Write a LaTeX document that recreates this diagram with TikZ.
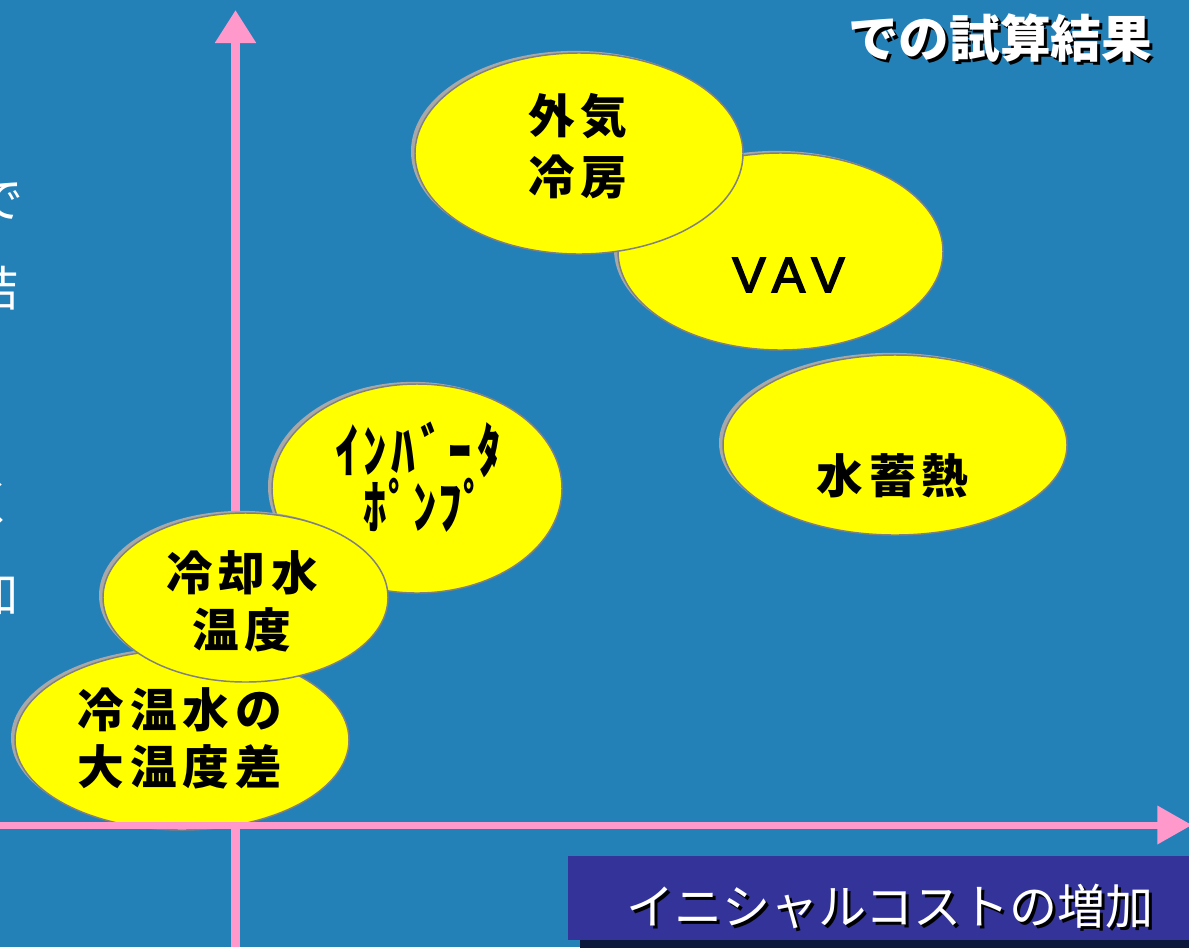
\documentclass[tikz,border=0pt]{standalone}
\usepackage{fontspec}
\setmainfont{Liberation Sans}
\newfontfamily\jp{Noto Sans CJK JP}
\newfontfamily\jphw[FakeStretch=0.8]{Noto Sans CJK JP}
\newfontfamily\vavf[FakeBold=3]{Liberation Sans}
\usetikzlibrary{shapes.geometric,shadows,arrows.meta}
\definecolor{bg}{RGB}{35,129,184}
\definecolor{pk}{RGB}{255,153,204}
\definecolor{outl}{RGB}{128,128,128}
\definecolor{shd}{RGB}{168,168,168}
\definecolor{boxc}{RGB}{51,51,153}
\definecolor{boxsh}{RGB}{12,24,60}
\definecolor{yel}{RGB}{255,255,0}
\newdimen\pu \pu=0.75pt
\newcommand\cbx[2][52.5]{\makebox[#1\pu][c]{#2}}
\begin{document}
\begin{tikzpicture}[x=0.75pt,y=-0.75pt,
  bub/.style={ellipse, draw=outl, line width=1.1pt, fill=yel, inner sep=0pt,
    general shadow={fill=shd, shadow xshift=-3pt, shadow yshift=1.6pt}},
  btxt/.style={align=center, inner sep=0pt, text=black,
    font=\jp\bfseries\fontsize{35}{42.75}\selectfont},
  edgech/.style={anchor=east, inner sep=0pt, text=white, font=\jp\fontsize{36}{36}\selectfont},
  axisv/.style={draw=pk, line width=6.75pt, -{Triangle[length=24.75pt, width=29.25pt]}},
  axish/.style={draw=pk, line width=5.25pt, -{Triangle[length=26pt, width=27.75pt]}},
]
\useasboundingbox (0,0) rectangle (1189,947);
\clip (0,0) rectangle (1189,947);
\fill[bg] (0,0) rectangle (1189,947);

% partial text at the left edge
\node[edgech] (l1) at (24,201) {で};
\node[edgech] (l2) at (19,288) {結};
\node[edgech] (l3) at (17,503) {く};
\node[edgech] (l4) at (19,594) {加};

% vertical axis
\coordinate (vb) at (235.5,947);
\coordinate (vt) at (235.5,10);
\draw[axisv] (vb) -- (vt);

% bubbles
\node[bub, minimum width=243.75pt, minimum height=147.75pt] (vav) at (780.5,251.5) {};
\node[bub, minimum width=246pt, minimum height=150.75pt] (gai) at (579,153.5) {};
\node[bub, minimum width=258pt, minimum height=135pt] (mizu) at (895,445) {};
\node[bub, minimum width=217.5pt, minimum height=156.75pt] (inv) at (417,488.5) {};
\node[bub, minimum width=250.5pt, minimum height=135pt] (reion) at (182,740) {};
\node[bub, minimum width=213.75pt, minimum height=126.75pt] (reik) at (245.5,597.5) {};

% horizontal axis
\coordinate (hl) at (0,825);
\coordinate (hr) at (1192,825);
\draw[axish] (hl) -- (hr);

% bubble texts
\node[btxt, font=\jp\bfseries\fontsize{35}{45.75}\selectfont] (tgai) at (578,146.5)
  {\cbx{外}\cbx{気}\\\cbx{冷}\cbx{房}};
\node[btxt, font=\vavf\fontsize{37.5}{40}\selectfont] (tvav) at (788.5,275)
  {\cbx[39.5]{V}\cbx[39.5]{A}\cbx[39.5]{V}};
\node[btxt] (tmizu) at (892.5,475.5) {\cbx{水}\cbx{蓄}\cbx{熱}};
\node[btxt, font=\jphw\bfseries\fontsize{44}{42}\selectfont] (tinv) at (418,477)
  {\cbx[28.5]{ｲ}\cbx[28.5]{ﾝ}\cbx[28.5]{ﾊ}\cbx[28.5]{ﾞ}\cbx[28.5]{ｰ}\cbx[28.5]{ﾀ}\\
   \hspace*{14\pu}\cbx[25]{ﾎ}\cbx[25]{ﾟ}\cbx[25]{ﾝ}\cbx[25]{ﾌ}\cbx[25]{ﾟ}};
\node[btxt] (treik) at (242,601) {\cbx{冷}\cbx{却}\cbx{水}\\\cbx{温}\cbx{度}};
\node[btxt] (treion) at (180,738) {\cbx{冷}\cbx{温}\cbx{水}\cbx{の}\\\cbx{大}\cbx{温}\cbx{度}\cbx{差}};

% title top right
\node[text=black, inner sep=0pt, font=\jp\bfseries\fontsize{38}{38}\selectfont] (ttlsh) at (1003,41) {での試算結果};
\node[text=white, inner sep=0pt, font=\jp\bfseries\fontsize{38}{38}\selectfont] (ttl) at (1000,38) {での試算結果};

% bottom box
\fill[boxsh] (580,862) rectangle (1195,952);
\node[fill=boxc, inner sep=0pt, minimum width=467pt, minimum height=63pt, anchor=north west] (box) at (568,856) {};
\node[text=black, inner sep=0pt, font=\jp\fontsize{36}{36}\selectfont] (boxtsh) at (893,909) {イニシャルコストの増加};
\node[text=white, inner sep=0pt, font=\jp\fontsize{36}{36}\selectfont] (boxt) at (890,906) {イニシャルコストの増加};
\end{tikzpicture}
\end{document}
